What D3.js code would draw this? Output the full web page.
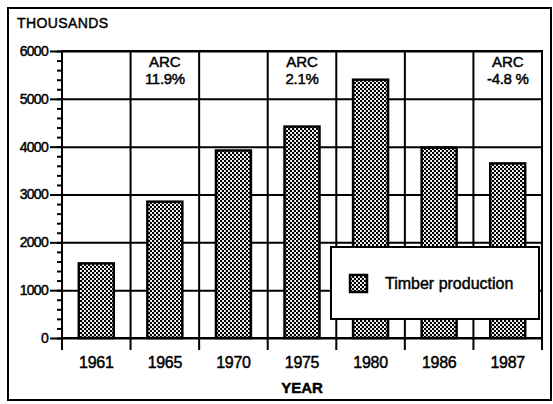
<!DOCTYPE html>
<html>
<head>
<meta charset="utf-8">
<script src="https://cdn.jsdelivr.net/npm/d3@7"></script>
<style>
  body { margin: 0; background: #fff; }
  svg { display: block; font-family: "Liberation Sans", Arial, Helvetica, sans-serif; }
  svg text { fill: #000; stroke: #000; stroke-width: 0.45px; }
  .axis path { display: none; }
  .axis line { stroke: #000; stroke-width: 2; }
</style>
</head>
<body>
<svg id="chart" width="553" height="404"></svg>
<script>
// ─── Data ────────────────────────────────────────────────────────────────────
const years = ['1961', '1965', '1970', '1975', '1980', '1986', '1987'];
const timber = [1560, 2850, 3920, 4420, 5400, 3980, 3650];
const yTicks = [0, 1000, 2000, 3000, 4000, 5000, 6000];
const yMinorTicks = d3.range(0, 6001, 200);
const arcYears = ['1965', '1975', '1987'];
const arcLabels = ['11.9%', '2.1%', '-4.8 %'];

const svg = d3.select('#chart');
const plot = { left: 62, right: 542, top: 51, bottom: 338 };

// checkered fill
const defs = svg.append('defs');
const pat = defs.append('pattern').attr('id', 'checker')
  .attr('width', 4).attr('height', 4).attr('patternUnits', 'userSpaceOnUse');
pat.append('rect').attr('width', 4).attr('height', 4).attr('fill', '#fff');
pat.append('rect').attr('width', 2).attr('height', 2).attr('fill', '#000');
pat.append('rect').attr('x', 2).attr('y', 2).attr('width', 2).attr('height', 2).attr('fill', '#000');
pat.append('rect').attr('x', 1.5).attr('y', 0).attr('width', 1).attr('height', 4).attr('fill', '#000').attr('opacity', 0.35);

// outer frame
svg.append('rect').attr('x', 8).attr('y', 8).attr('width', 543).attr('height', 392)
  .attr('fill', 'none').attr('stroke', '#000').attr('stroke-width', 2);

const x = d3.scaleBand().domain(years).range([plot.left, plot.right])
  .paddingInner(0.49).paddingOuter(0.245);
const y = d3.scaleLinear().domain([0, 6000]).range([plot.bottom, plot.top]);
const step = x.step();
const edges = years.map(d => x(d) + x.bandwidth() / 2 - step / 2).concat(plot.right);

// horizontal gridlines
svg.append('g').attr('class', 'axis')
  .attr('transform', `translate(${plot.left},0)`)
  .call(d3.axisLeft(y).tickValues(yTicks).tickSize(-(plot.right - plot.left)).tickFormat(''));

// vertical gridlines + ticks below axis
svg.append('g').selectAll('line').data(edges).join('line')
  .attr('x1', d => d).attr('x2', d => d)
  .attr('y1', plot.top).attr('y2', plot.bottom + 12)
  .attr('stroke', '#000').attr('stroke-width', 2);

// bars
svg.append('g').selectAll('rect').data(years).join('rect')
  .attr('x', d => x(d))
  .attr('y', (d, i) => y(timber[i]))
  .attr('width', x.bandwidth())
  .attr('height', (d, i) => y(0) - y(timber[i]))
  .attr('fill', 'url(#checker)')
  .attr('stroke', '#000').attr('stroke-width', 2.5);

// plot frame
svg.append('rect').attr('x', plot.left).attr('y', plot.top)
  .attr('width', plot.right - plot.left).attr('height', plot.bottom - plot.top)
  .attr('fill', 'none').attr('stroke', '#000').attr('stroke-width', 2);

// y axis: minor + major ticks
svg.append('g').attr('class', 'axis')
  .attr('transform', `translate(${plot.left},0)`)
  .call(d3.axisLeft(y).tickValues(yMinorTicks).tickSize(5).tickFormat(''))
  .selectAll('line').attr('stroke-width', 1.5);
const yAxis = svg.append('g').attr('class', 'axis')
  .attr('transform', `translate(${plot.left},0)`)
  .call(d3.axisLeft(y).tickValues(yTicks).tickSize(12).tickPadding(2).tickFormat(d3.format('d')));
yAxis.selectAll('text').attr('font-size', 14).attr('letter-spacing', -0.7);

// x labels
const xAxis = svg.append('g').attr('class', 'axis')
  .attr('transform', `translate(0,${plot.bottom})`)
  .call(d3.axisBottom(x).tickSize(0).tickPadding(19));
xAxis.selectAll('text').attr('font-size', 16).attr('letter-spacing', -0.3);

// axis titles
svg.append('text').attr('x', 17).attr('y', 28).attr('font-size', 14)
  .attr('letter-spacing', 0.4).text('THOUSANDS');
svg.append('text').attr('x', (plot.left + plot.right) / 2).attr('y', 393)
  .attr('text-anchor', 'middle').attr('font-size', 15).attr('font-weight', 'bold')
  .attr('stroke-width', 0.2).text('YEAR');

// ARC annotations
const arc = svg.append('g').selectAll('g').data(arcYears).join('g')
  .attr('transform', d => `translate(${x(d) + x.bandwidth() / 2},0)`);
arc.append('text').attr('y', 67).attr('text-anchor', 'middle').attr('font-size', 15).text('ARC');
arc.append('text').attr('y', 84).attr('text-anchor', 'middle').attr('font-size', 15)
  .attr('letter-spacing', -0.3).text((d, i) => arcLabels[i]);

// legend
const lg = svg.append('g');
lg.append('rect').attr('x', 331).attr('y', 247).attr('width', 208).attr('height', 72)
  .attr('fill', '#fff').attr('stroke', '#000').attr('stroke-width', 2);
lg.append('rect').attr('x', 350).attr('y', 275).attr('width', 17).attr('height', 17)
  .attr('fill', 'url(#checker)').attr('stroke', '#000').attr('stroke-width', 2.5);
lg.append('text').attr('x', 385).attr('y', 289).attr('font-size', 16).text('Timber production');
</script>
</body>
</html>
